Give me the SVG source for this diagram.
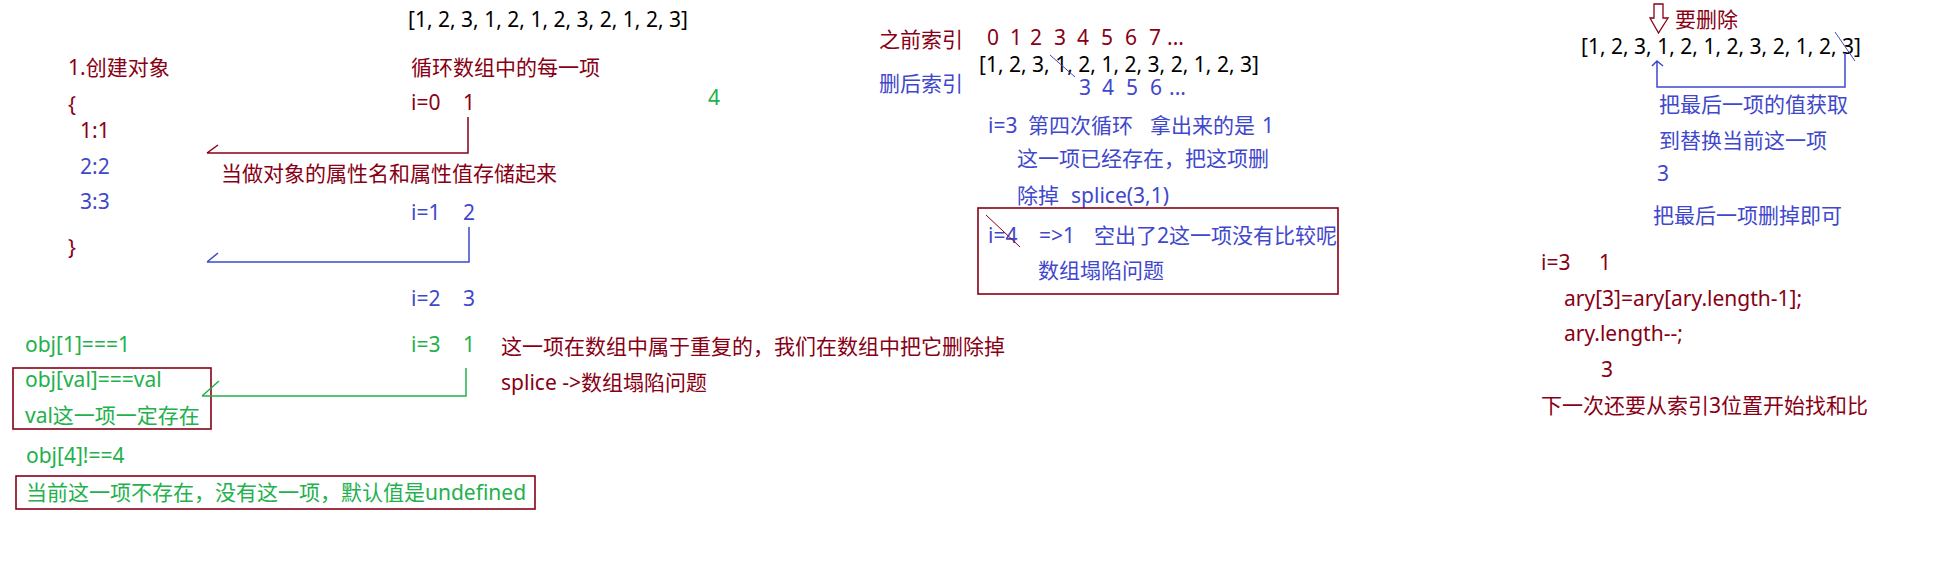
<svg xmlns="http://www.w3.org/2000/svg" width="1948" height="576" viewBox="0 0 1948 576">
<style>
text { font-family: "Noto Sans", "Noto Sans CJK SC", sans-serif; font-size: 21px; }
.r { fill: #880015; }
.b { fill: #3F48CC; }
.g { fill: #22B14C; }
.k { fill: #000000; }
.box { fill: none; stroke: #880015; stroke-width: 1.6; }
.lr { fill: none; stroke: #880015; stroke-width: 1.5; }
.lb { fill: none; stroke: #3F48CC; stroke-width: 1.5; }
.lg { fill: none; stroke: #22B14C; stroke-width: 1.5; }
.thin-b { fill: none; stroke: #3F48CC; stroke-width: 1; }
.thin-r { fill: none; stroke: #880015; stroke-width: 1; }
</style>
<rect width="1948" height="576" fill="#ffffff"/>

<!-- left column -->
<g id="arr-top"><text class="k" x="408" y="27">[1, 2, 3, 1, 2, 1, 2, 3, 2, 1, 2, 3]</text></g>
<g id="create"><text class="r" x="68" y="75">1.创建对象</text></g>
<g id="obj-literal">
  <text class="r" x="68" y="112">{</text>
  <text class="r" x="80" y="138">1:1</text>
  <text class="b" x="80" y="174">2:2</text>
  <text class="b" x="80" y="209">3:3</text>
  <text class="r" x="68" y="255">}</text>
</g>
<g id="loop"><text class="r" x="411" y="75">循环数组中的每一项</text></g>
<g id="i0"><text class="r" x="411" y="110">i=0<tspan x="463">1</tspan></text></g>
<g id="four"><text class="g" x="708" y="105">4</text></g>
<g id="store"><text class="r" x="221" y="181">当做对象的属性名和属性值存储起来</text></g>
<g id="i1"><text class="b" x="411" y="220">i=1<tspan x="463">2</tspan></text></g>
<g id="i2"><text class="b" x="411" y="306">i=2<tspan x="463">3</tspan></text></g>
<g id="i3"><text class="g" x="411" y="352">i=3<tspan x="463">1</tspan></text></g>
<g id="dup">
  <text class="r" x="501" y="354">这一项在数组中属于重复的，我们在数组中把它删除掉</text>
  <text class="r" x="501" y="390">splice -&gt;数组塌陷问题</text>
</g>
<g id="obj1"><text class="g" x="25" y="352">obj[1]===1</text></g>
<g id="box-val">
  <rect class="box" x="13" y="368" width="198" height="61"/>
  <text class="g" x="25" y="387">obj[val]===val</text>
  <text class="g" x="25" y="423">val这一项一定存在</text>
</g>
<g id="obj4"><text class="g" x="26" y="463">obj[4]!==4</text></g>
<g id="box-undef">
  <rect class="box" x="16" y="476" width="519" height="33"/>
  <text class="g" x="26" y="500">当前这一项不存在，没有这一项，默认值是undefined</text>
</g>

<!-- middle column -->
<g id="before-index">
  <text class="r" x="879" y="47">之前索引</text>
  <text class="r" x="987" y="45">0<tspan x="1010">1</tspan><tspan x="1030">2</tspan><tspan x="1054">3</tspan><tspan x="1077">4</tspan><tspan x="1101">5</tspan><tspan x="1125">6</tspan><tspan x="1149">7</tspan><tspan x="1167">...</tspan></text>
</g>
<g id="arr-mid">
  <text class="k" x="979" y="72">[1, 2, 3, 1, 2, 1, 2, 3, 2, 1, 2, 3]</text>
  <line class="thin-b" x1="1050" y1="55" x2="1075" y2="77"/>
</g>
<g id="after-index">
  <text class="b" x="879" y="91">删后索引</text>
  <text class="b" x="1079" y="95">3<tspan x="1102">4</tspan><tspan x="1126">5</tspan><tspan x="1150">6</tspan><tspan x="1169">...</tspan></text>
</g>
<g id="fourth-loop">
  <text class="b" x="988" y="133">i=3<tspan x="1028">第四次循环</tspan><tspan x="1150">拿出来的是</tspan><tspan x="1262">1</tspan></text>
  <text class="b" x="1017" y="166">这一项已经存在，把这项删</text>
  <text class="b" x="1017" y="203">除掉<tspan x="1071">splice(3,1)</tspan></text>
</g>
<g id="box-collapse">
  <rect class="box" x="978" y="208" width="360" height="86"/>
  <text class="b" x="988" y="243">i=4<tspan x="1039">=&gt;1</tspan><tspan x="1094">空出了2这一项没有比较呢</tspan></text>
  <line class="thin-r" x1="986" y1="215" x2="1020" y2="247"/>
  <text class="b" x="1038" y="278">数组塌陷问题</text>
</g>

<!-- right column -->
<g id="to-delete">
  <polygon points="1654,4 1663,4 1663,18 1668,18 1658.5,33 1650,18 1654,18" fill="#ffffff" stroke="#880015" stroke-width="1.3"/>
  <text class="r" x="1675" y="27">要删除</text>
</g>
<g id="arr-right">
  <text class="k" x="1581" y="54">[1, 2, 3, 1, 2, 1, 2, 3, 2, 1, 2, 3]</text>
  <line class="thin-b" x1="1835" y1="32" x2="1855" y2="61"/>
</g>
<g id="replace-note">
  <text class="b" x="1659" y="112">把最后一项的值获取</text>
  <text class="b" x="1659" y="148">到替换当前这一项</text>
  <text class="b" x="1657" y="181">3</text>
  <text class="b" x="1653" y="223">把最后一项删掉即可</text>
</g>
<g id="code">
  <text class="r" x="1541" y="270">i=3<tspan x="1599">1</tspan></text>
  <text class="r" x="1564" y="306">ary[3]=ary[ary.length-1];</text>
  <text class="r" x="1564" y="341">ary.length--;</text>
  <text class="r" x="1601" y="377">3</text>
  <text class="r" x="1541" y="413">下一次还要从索引3位置开始找和比</text>
</g>

<!-- connectors -->
<g id="connectors">
  <path class="lr" d="M468,117 V153 H207 M207,153 L218,145"/>
  <path class="lb" d="M469,227 V262 H207 M207,262 L218,253"/>
  <path class="lg" d="M466,368 V396 H202 M202,396 L219,381"/>
  <path class="lb" d="M1845,53 V87 H1657 V61 M1652,66 L1657,61 L1663,66"/>
</g>
</svg>
